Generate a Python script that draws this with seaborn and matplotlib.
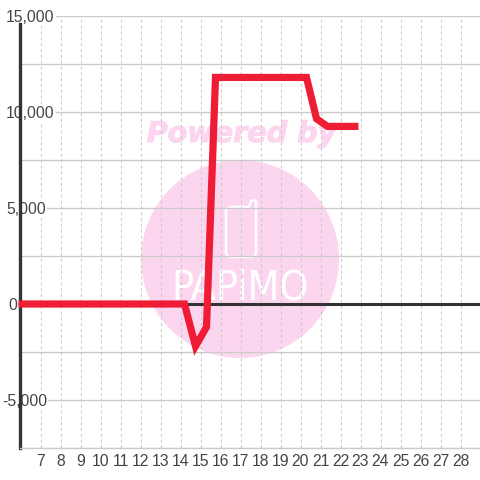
import matplotlib
matplotlib.use("Agg")
import matplotlib.pyplot as plt
import matplotlib.patheffects as pe
import matplotlib.transforms as mtrans
from matplotlib.patches import Circle, PathPatch
from matplotlib.path import Path
import pandas as pd
import seaborn as sns

days = [5.9, 14.2, 14.75, 15.3, 15.75, 20.3, 20.8, 21.35, 22.9]
values = [0, 0, -2200, -1200, 11800, 11800, 9650, 9250, 9250]
x_ticks = list(range(7, 29))
y_major = [-5000, 0, 5000, 10000, 15000]
y_labels = ["-5,000", "0", "5,000", "10,000", "15,000"]
y_minor = [-7500, -2500, 2500, 7500, 12500]
label_left_px = [2, 8, 6, 6, 6]

sns.set_style("white")
plt.rcParams["font.family"] = ["Liberation Sans", "DejaVu Sans"]

fig = plt.figure(figsize=(4.8, 4.8), dpi=100)
fig.patch.set_facecolor("white")
ax = fig.add_axes([20 / 480, 32 / 480, 460 / 480, 432 / 480])
ax.patch.set_visible(False)
ax.set_xlim(5.975, 28.975)
ax.set_ylim(-7500, 15000)

# Watermark, in pixel coordinates of the figure, below the axes
px = mtrans.Affine2D().scale(1, -1).translate(0, 480)
pink = "#fcd6ee"
fig.add_artist(Circle((240, 259), 99, transform=px, color=pink, lw=0, zorder=-3))
fig.text(241.5 / 480, 1 - 134 / 480, "Powered by", color=pink, fontsize=20.6, fontweight="bold",
         fontstyle="italic", family="DejaVu Sans", ha="center", va="center", zorder=-2,
         path_effects=[pe.withStroke(linewidth=0.8, foreground=pink)])
phone = Path(
    [(229, 207), (249, 207), (251, 201), (254, 200), (256, 202), (256, 254), (253, 257),
     (229, 257), (226, 254), (226, 210), (229, 207)],
    [Path.MOVETO] + [Path.LINETO] * 10,
)
fig.add_artist(PathPatch(phone, transform=px, fc="none", ec="white", lw=1.7, zorder=-1))
fig.text(240 / 480, 1 - 289 / 480, "PAPiMO", color="white", fontsize=29.5, family="DejaVu Sans",
         fontstretch="condensed", ha="center", va="center", zorder=-1)

ax.set_axisbelow(True)
ax.set_xticks(x_ticks)
ax.set_yticks(y_major)
ax.set_yticklabels(y_labels)
ax.set_yticks(y_minor, minor=True)
ax.grid(False)
ax.grid(True, axis="y", which="both", color="#cacaca", lw=0.95, ls="-", zorder=1)
ax.grid(True, axis="x", which="major", color="#cacaca", lw=0.75, ls=(0, (2.8, 2.8)), zorder=1)
ax.tick_params(axis="both", which="both", length=0)
ax.tick_params(axis="x", labelsize=11.3, labelcolor="#444444", pad=4)
ax.tick_params(axis="y", labelsize=11.3, labelcolor="#444444")
for side in ["top", "right"]:
    ax.spines[side].set_visible(False)
ax.spines["bottom"].set_color("#cacaca")
ax.spines["bottom"].set_linewidth(0.95)
ax.spines["left"].set_color("#333333")
ax.spines["left"].set_linewidth(2.4)
ax.spines["left"].set_bounds(-7500, 14580)
ax.axhline(0, color="#333333", lw=2.2, zorder=2)

for lab, left in zip(ax.get_yticklabels(), label_left_px):
    lab.set_ha("left")
    lab.set_transform(ax.get_yaxis_transform() + mtrans.ScaledTranslation((left - 20) / 100, 0, fig.dpi_scale_trans))
    lab.set_bbox(dict(fc="white", ec="none", pad=0.8))
    lab.set_zorder(5)

df = pd.DataFrame({"day": days, "value": values})
sns.lineplot(data=df, x="day", y="value", ax=ax, color="#ee1c35", lw=5.2, clip_on=False, zorder=4,
             estimator=None, sort=False, solid_joinstyle="miter", solid_capstyle="butt")
ax.set_xlabel("")
ax.set_ylabel("")
fig.savefig("out.png", dpi=100)
